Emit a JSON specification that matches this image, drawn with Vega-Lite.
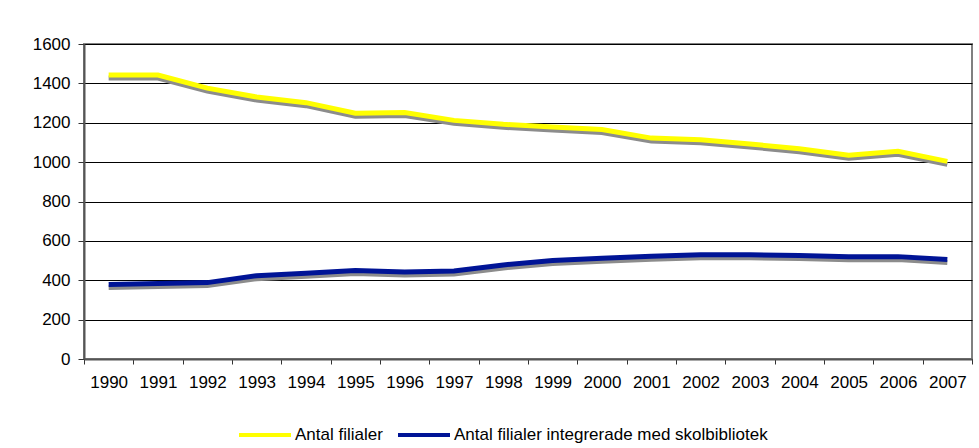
{
  "$schema": "https://vega.github.io/schema/vega-lite/v6.json",
  "width": 888,
  "height": 315,
  "autosize": {"type": "none"},
  "padding": {"left": 84, "top": 44, "right": 7, "bottom": 89},
  "background": "white",
  "config": {
    "font": "Liberation Sans",
    "view": {"stroke": "#808080", "strokeWidth": 2},
    "axis": {"labelFont": "Liberation Sans", "labelColor": "black", "labelFontSize": 17}
  },
  "data": {
    "values": [
      {"year": "1990", "series": "Antal filialer", "value": 1442},
      {"year": "1991", "series": "Antal filialer", "value": 1442},
      {"year": "1992", "series": "Antal filialer", "value": 1376},
      {"year": "1993", "series": "Antal filialer", "value": 1331},
      {"year": "1994", "series": "Antal filialer", "value": 1302},
      {"year": "1995", "series": "Antal filialer", "value": 1248},
      {"year": "1996", "series": "Antal filialer", "value": 1252},
      {"year": "1997", "series": "Antal filialer", "value": 1212},
      {"year": "1998", "series": "Antal filialer", "value": 1192},
      {"year": "1999", "series": "Antal filialer", "value": 1178},
      {"year": "2000", "series": "Antal filialer", "value": 1166},
      {"year": "2001", "series": "Antal filialer", "value": 1122},
      {"year": "2002", "series": "Antal filialer", "value": 1114},
      {"year": "2003", "series": "Antal filialer", "value": 1092},
      {"year": "2004", "series": "Antal filialer", "value": 1068},
      {"year": "2005", "series": "Antal filialer", "value": 1035},
      {"year": "2006", "series": "Antal filialer", "value": 1055},
      {"year": "2007", "series": "Antal filialer", "value": 1004},
      {"year": "1990", "series": "Antal filialer integrerade med skolbibliotek", "value": 379},
      {"year": "1991", "series": "Antal filialer integrerade med skolbibliotek", "value": 383},
      {"year": "1992", "series": "Antal filialer integrerade med skolbibliotek", "value": 388},
      {"year": "1993", "series": "Antal filialer integrerade med skolbibliotek", "value": 423},
      {"year": "1994", "series": "Antal filialer integrerade med skolbibliotek", "value": 436},
      {"year": "1995", "series": "Antal filialer integrerade med skolbibliotek", "value": 449},
      {"year": "1996", "series": "Antal filialer integrerade med skolbibliotek", "value": 442},
      {"year": "1997", "series": "Antal filialer integrerade med skolbibliotek", "value": 447},
      {"year": "1998", "series": "Antal filialer integrerade med skolbibliotek", "value": 478},
      {"year": "1999", "series": "Antal filialer integrerade med skolbibliotek", "value": 500},
      {"year": "2000", "series": "Antal filialer integrerade med skolbibliotek", "value": 512},
      {"year": "2001", "series": "Antal filialer integrerade med skolbibliotek", "value": 522},
      {"year": "2002", "series": "Antal filialer integrerade med skolbibliotek", "value": 530},
      {"year": "2003", "series": "Antal filialer integrerade med skolbibliotek", "value": 529},
      {"year": "2004", "series": "Antal filialer integrerade med skolbibliotek", "value": 526},
      {"year": "2005", "series": "Antal filialer integrerade med skolbibliotek", "value": 520},
      {"year": "2006", "series": "Antal filialer integrerade med skolbibliotek", "value": 520},
      {"year": "2007", "series": "Antal filialer integrerade med skolbibliotek", "value": 506}
    ]
  },
  "encoding": {
    "x": {
      "field": "year",
      "type": "ordinal",
      "bandPosition": 0.5,
      "scale": {"type": "band", "paddingInner": 0, "paddingOuter": 0},
      "axis": {
        "title": null,
        "labelAngle": 0,
        "tickBand": "extent",
        "domainColor": "#555555",
        "domainWidth": 2,
        "tickColor": "#333333",
        "tickWidth": 1,
        "tickSize": 5,
        "labelPadding": 10,
        "grid": false
      }
    },
    "y": {
      "field": "value",
      "type": "quantitative",
      "scale": {"domain": [0, 1600], "nice": false},
      "axis": {
        "title": null,
        "format": "d",
        "values": [0, 200, 400, 600, 800, 1000, 1200, 1400, 1600],
        "grid": true,
        "gridColor": "black",
        "gridWidth": 1,
        "domainColor": "#555555",
        "domainWidth": 2,
        "tickColor": "#333333",
        "tickSize": 6,
        "labelPadding": 8
      }
    }
  },
  "layer": [
    {
      "mark": {"type": "line", "color": "#8c8c8c", "strokeWidth": 5, "yOffset": 3},
      "encoding": {"detail": {"field": "series"}}
    },
    {
      "mark": {"type": "line", "strokeWidth": 5},
      "encoding": {
        "color": {
          "field": "series",
          "type": "nominal",
          "scale": {
            "domain": ["Antal filialer", "Antal filialer integrerade med skolbibliotek"],
            "range": ["#FFFF00", "#001496"]
          },
          "legend": {
            "title": null,
            "orient": "none",
            "direction": "horizontal",
            "legendX": 153,
            "legendY": 363,
            "symbolType": "stroke",
            "symbolSize": 2704,
            "symbolStrokeWidth": 4,
            "labelFont": "Liberation Sans",
            "labelFontSize": 17,
            "labelColor": "black",
            "labelOffset": 2,
            "columnPadding": 7,
            "padding": 0,
            "labelLimit": 500
          }
        }
      }
    }
  ]
}
